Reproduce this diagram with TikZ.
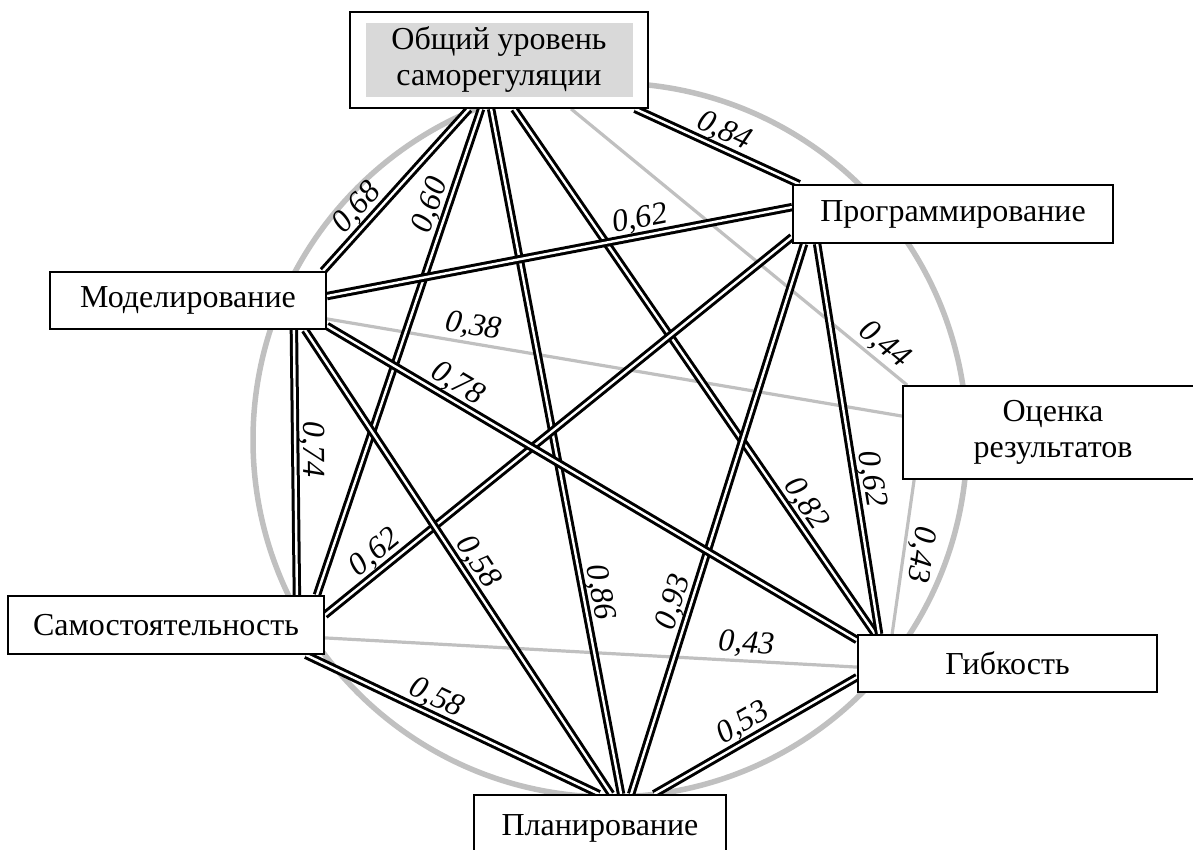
\documentclass[tikz,border=0pt]{standalone}
\usepackage{fontspec}
\setmainfont{Liberation Serif}
\pgfdeclarelayer{edges}
\pgfsetlayers{edges,main}
\definecolor{ringgray}{RGB}{192,192,192}
\definecolor{fillgray}{RGB}{217,217,217}
\begin{document}
\begin{tikzpicture}[x=1pt,y=-1pt,
  box/.style={draw=black, line width=1.8pt, fill=white, inner sep=0pt,
              align=center, font=\fontsize{32}{36}\selectfont},
  strong/.style={draw=black, line width=3pt, double=white, double distance=2.4pt},
  weak/.style={draw=ringgray, line width=3.2pt},
  val/.style={font=\fontsize{32}{32}\selectfont\itshape, inner sep=0pt,
              sloped, above=2pt},
]
\useasboundingbox (0,0) rectangle (1193,850);

% factor boxes
\node[box, minimum width=298pt, minimum height=96pt,
      path picture={\fill[fillgray]
        ([xshift=16pt,yshift=11pt]path picture bounding box.south west) rectangle
        ([xshift=-15pt,yshift=-11pt]path picture bounding box.north east);}]
      (obs) at (499,60) {Общий уровень\\саморегуляции};
\node[box, minimum width=320pt, minimum height=58pt] (prog) at (953,214) {Программирование};
\node[box, minimum width=276pt, minimum height=57pt] (model) at (188,300.5) {Моделирование};
\node[box, minimum width=300pt, minimum height=93pt] (ocen) at (1053,432.5) {Оценка\\результатов};
\node[box, minimum width=299pt, minimum height=57pt] (gib) at (1007.5,663.5) {Гибкость};
\node[box, minimum width=316pt, minimum height=58pt] (samo) at (166,625) {Самостоятельность};
\node[box, minimum width=252pt, minimum height=66pt] (plan) at (600,828) {Планирование};

\begin{pgfonlayer}{edges}
  % background ring
  \draw[ringgray, line width=5.5pt] (610,440) circle[radius=357pt];
  % weak links
  \draw[weak] ([xshift=222pt]obs.south west) --
    node[val, pos=0.90] (v44) {0,44} ([xshift=5pt]ocen.north west);
  \draw[weak] ([yshift=11pt]model.south east) --
    node[val, pos=0.25] (v38) {0,38} ([yshift=-31pt]ocen.north west);
  \draw[weak] ([xshift=12pt]ocen.south west) --
    node[val, pos=0.47, allow upside down] (v43a) {0,43} ([xshift=35pt]gib.north west);
  \draw[weak] ([yshift=17pt]samo.south east) --
    node[val, pos=0.79] (v43b) {0,43} ([yshift=-33pt]gib.north west);
  % strong links from the general level
  \draw[strong] ([xshift=-4pt]model.north east) --
    node[val, pos=0.32] (v68) {0,68} ([xshift=120pt]obs.south west);
  \draw[strong] ([xshift=-8pt]samo.north east) --
    node[val, pos=0.79] (v60) {0,60} ([xshift=132pt]obs.south west);
  \draw[strong] ([xshift=142pt]obs.south west) --
    node[val, pos=0.71] (v86) {0,86} ([xshift=148pt]plan.north west);
  \draw[strong] ([xshift=165pt]obs.south west) --
    node[val, pos=0.77] (v82) {0,82} ([xshift=18pt]gib.north west);
  \draw[strong] ([xshift=286pt]obs.south west) --
    node[val, pos=0.5] (v84) {0,84} ([xshift=7pt]prog.north west);
  % strong links from programming
  \draw[strong] ([yshift=-25pt]model.north east) --
    node[val, pos=0.68] (v62a) {0,62} ([yshift=-23pt]prog.north west);
  \draw[strong] ([yshift=-20pt]samo.north east) --
    node[val, pos=0.13] (v62b) {0,62} ([yshift=7pt]prog.south west);
  \draw[strong] ([xshift=158pt]plan.north west) --
    node[val, pos=0.34] (v93) {0,93} ([xshift=12pt]prog.south west);
  \draw[strong] ([xshift=25pt]prog.south west) --
    node[val, pos=0.61] (v62c) {0,62} ([xshift=22pt]gib.north west);
  % strong links from modelling
  \draw[strong] ([yshift=4pt]model.south east) --
    node[val, pos=0.23] (v78) {0,78} ([yshift=-6pt]gib.north west);
  \draw[strong] ([xshift=-22pt]model.south east) --
    node[val, pos=0.52] (v58a) {0,58} ([xshift=138pt]plan.north west);
  \draw[strong] ([xshift=-33pt]model.south east) --
    node[val, pos=0.45] (v74) {0,74} ([xshift=-28pt]samo.north east);
  % remaining strong links
  \draw[strong] ([xshift=-19pt]samo.south east) --
    node[val, pos=0.42] (v58b) {0,58} ([xshift=126pt]plan.north west);
  \draw[strong] ([xshift=181pt]plan.north west) --
    node[val, pos=0.48] (v53) {0,53} ([yshift=-43pt]gib.north west);
\end{pgfonlayer}
\end{tikzpicture}
\end{document}
